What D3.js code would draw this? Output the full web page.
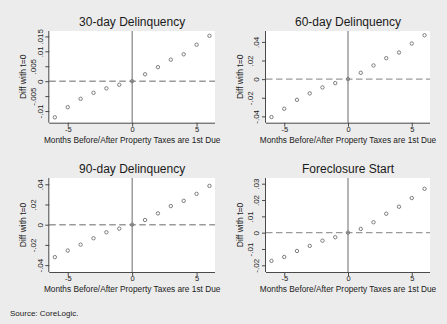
<!DOCTYPE html>
<html>
<head>
<meta charset="utf-8">
<script src="https://cdn.jsdelivr.net/npm/d3@7"></script>
<style>
  html, body { margin: 0; padding: 0; background: #ececec; }
  svg { display: block; font-family: "Liberation Sans", Arial, sans-serif; }
</style>
</head>
<body>
<svg id="chart" width="447" height="324"></svg>
<script>
// Event-study estimates: change in rate relative to the month taxes are first due
const months = [-6, -5, -4, -3, -2, -1, 0, 1, 2, 3, 4, 5, 6];

const delinq30 = [-0.0121, -0.0087, -0.0059, -0.0039, -0.0024, -0.0012, 0,
                  0.0023, 0.0047, 0.0072, 0.0090, 0.0122, 0.0152];
const delinq60 = [-0.0407, -0.0318, -0.0222, -0.0153, -0.0089, -0.0043, 0,
                  0.0068, 0.0147, 0.0225, 0.0286, 0.0382, 0.0471];
const delinq90 = [-0.0321, -0.0256, -0.0197, -0.0134, -0.0075, -0.0039, 0,
                  0.0046, 0.0112, 0.0184, 0.0236, 0.0305, 0.0384];
const foreclosure = [-0.0173, -0.0149, -0.0112, -0.0081, -0.0049, -0.0028, 0,
                     0.0023, 0.0064, 0.0116, 0.0159, 0.0212, 0.0269];

const titles = ["30-day Delinquency", "60-day Delinquency", "90-day Delinquency", "Foreclosure Start"];

const xTicks = [-5, 0, 5];
const xTickLabels = ["-5", "0", "5"];

const yTicks30 = [-0.01, -0.005, 0, 0.005, 0.01, 0.015];
const yTickLabels30 = ["-.01", "-.005", "0", ".005", ".01", ".015"];
const yTicks60 = [-0.04, -0.02, 0, 0.02, 0.04];
const yTickLabels60 = ["-.04", "-.02", "0", ".02", ".04"];
const yTicks90 = [-0.04, -0.02, 0, 0.02, 0.04];
const yTickLabels90 = ["-.04", "-.02", "0", ".02", ".04"];
const yTicksFc = [-0.02, -0.01, 0, 0.01, 0.02, 0.03];
const yTickLabelsFc = ["-.02", "-.01", "0", ".01", ".02", ".03"];

const xDomain = [-6.43, 6.43];
const yDomains = [[-0.0139, 0.0168], [-0.0468, 0.0517], [-0.0468, 0.0462], [-0.0241, 0.0335]];

const xTitle = "Months Before/After Property Taxes are 1st Due";
const yTitle = "Diff with t=0";
const note = "Source: CoreLogic.";

// Panel plot regions: [left, right, top, bottom]
const boxes = [
  [49.3, 215, 31, 122.7],
  [266, 430, 31, 122.7],
  [49.3, 215, 178, 272],
  [266, 430, 178, 272]
];

const panels = [
  { values: delinq30, ticks: yTicks30, labels: yTickLabels30 },
  { values: delinq60, ticks: yTicks60, labels: yTickLabels60 },
  { values: delinq90, ticks: yTicks90, labels: yTickLabels90 },
  { values: foreclosure, ticks: yTicksFc, labels: yTickLabelsFc }
];

const svg = d3.select("#chart");
svg.append("rect").attr("width", 447).attr("height", 324).attr("fill", "#ececec");

const ink = "#1a1a1a";
const axisColor = "#4a4a4a";

panels.forEach((p, k) => {
  const [L, R, T, B] = boxes[k];
  const x = d3.scaleLinear().domain(xDomain).range([L, R]);
  const y = d3.scaleLinear().domain(yDomains[k]).range([B, T]);
  const g = svg.append("g");

  // white plot region
  g.append("rect").attr("x", L).attr("y", T).attr("width", R - L).attr("height", B - T)
    .attr("fill", "#ffffff");

  // reference lines: dashed at zero difference, solid at month 0
  g.append("line").attr("x1", L).attr("x2", R).attr("y1", y(0)).attr("y2", y(0))
    .attr("stroke", "#9a9a9a").attr("stroke-width", 1.4).attr("stroke-dasharray", "6.5,3.5");
  g.append("line").attr("x1", x(0)).attr("x2", x(0)).attr("y1", T).attr("y2", B)
    .attr("stroke", "#6a6a6a").attr("stroke-width", 1);

  // x axis
  const xa = g.append("g").attr("transform", `translate(0,${B})`)
    .call(d3.axisBottom(x).tickValues(xTicks).tickSize(4).tickPadding(0)
      .tickFormat((d, i) => xTickLabels[i]));
  xa.select(".domain").attr("stroke", axisColor).attr("d", `M${L},0.5H${R}`);
  xa.selectAll(".tick line").attr("stroke", axisColor);
  xa.selectAll(".tick text").attr("fill", ink).attr("font-size", 7.5)
    .attr("font-family", "Liberation Sans, Arial, sans-serif");

  // y axis with rotated, staggered labels
  const zeroIdx = p.ticks.indexOf(0);
  const ya = g.append("g").attr("transform", `translate(${L},0)`)
    .call(d3.axisLeft(y).tickValues(p.ticks).tickSize(4).tickFormat(""));
  ya.select(".domain").attr("stroke", axisColor).attr("d", `M-0.5,${T}V${B}`);
  ya.selectAll(".tick line").attr("stroke", axisColor);
  ya.selectAll(".tick").append("text")
    .attr("transform", (d, i) => `translate(${Math.abs(i - zeroIdx) === 1 ? -16 : -9.5},0) rotate(-90)`)
    .attr("text-anchor", "middle")
    .attr("dy", "0.35em")
    .attr("fill", ink)
    .attr("font-size", 8)
    .attr("font-family", "Liberation Sans, Arial, sans-serif")
    .text((d, i) => p.labels[i]);

  // points
  g.selectAll("circle.pt").data(months).join("circle").attr("class", "pt")
    .attr("cx", d => x(d))
    .attr("cy", (d, i) => y(p.values[i]))
    .attr("r", 1.7)
    .attr("fill", "none")
    .attr("stroke", "#7d7d7d")
    .attr("stroke-width", 1);

  // titles
  g.append("text").attr("x", (L + R) / 2).attr("y", T - 9.5).attr("dy", "0.35em")
    .attr("text-anchor", "middle").attr("font-size", 12).attr("fill", ink)
    .text(titles[k]);
  g.append("text").attr("x", (L + R) / 2).attr("y", B + 17.5).attr("dy", "0.35em")
    .attr("text-anchor", "middle").attr("font-size", 8.3).attr("fill", ink)
    .text(xTitle);
  g.append("text")
    .attr("transform", `translate(${L - 26},${(T + B) / 2}) rotate(-90)`)
    .attr("dy", "0.35em").attr("text-anchor", "middle")
    .attr("font-size", 8.5).attr("fill", ink)
    .text(yTitle);
});

svg.append("text").attr("x", 10).attr("y", 313).attr("dy", "0.35em")
  .attr("font-size", 8).attr("fill", ink).text(note);
</script>
</body>
</html>
